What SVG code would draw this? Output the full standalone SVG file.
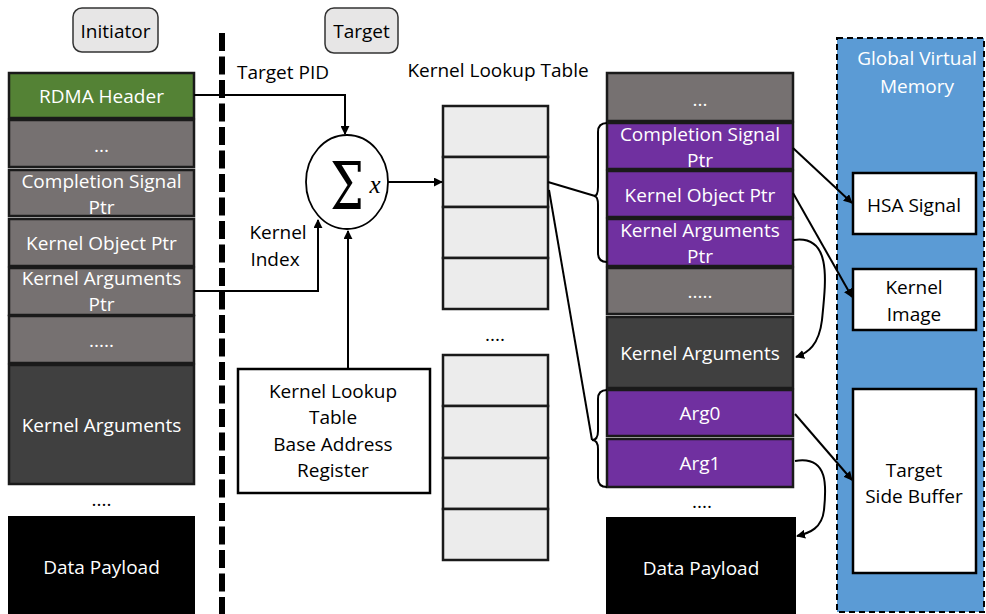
<svg xmlns="http://www.w3.org/2000/svg" width="986" height="614" viewBox="0 0 986 614">
<defs>
<marker id="ah" viewBox="0 0 10 10" refX="9" refY="5" markerWidth="9" markerHeight="9" markerUnits="userSpaceOnUse" orient="auto">
<path d="M0,0 L10,5 L0,10 z" fill="#000"/>
</marker>
<style>
text{font-family:"Open Sans","Noto Sans",sans-serif;font-size:19px;text-anchor:middle}
.w{fill:#fff}
.k{fill:#000}
.gray{fill:#767171;stroke:#1a1a1a;stroke-width:2.5}
.dark{fill:#404040;stroke:#1a1a1a;stroke-width:2.5}
.green{fill:#548235;stroke:#1a1a1a;stroke-width:2.5}
.purple{fill:#7030a0;stroke:#1a1a1a;stroke-width:2.5}
.black{fill:#000;stroke:#000;stroke-width:2}
.tbl{fill:#ececec;stroke:#1a1a1a;stroke-width:2.5}
.wbox{fill:#fff;stroke:#000;stroke-width:2.5}
.lbl{fill:#e7e6e6;stroke:#333;stroke-width:1.5}
.con{fill:none;stroke:#000;stroke-width:2}
.arr{fill:none;stroke:#000;stroke-width:2;marker-end:url(#ah)}
</style>
</defs>

<g id="global-memory">
<rect x="837" y="38" width="147" height="574" fill="#5b9bd5" stroke="#000" stroke-width="2" stroke-dasharray="6 4"/>
<text x="917" y="65" class="w">Global Virtual</text>
<text x="917" y="93" class="w">Memory</text>
</g>

<g id="divider">
<line x1="222" y1="33" x2="222" y2="614" stroke="#000" stroke-width="6" stroke-dasharray="18 5.5"/>
</g>

<g id="initiator-label">
<rect x="73" y="8" width="85" height="44" rx="9" class="lbl"/>
<text x="115.5" y="38" class="k">Initiator</text>
</g>
<g id="target-label">
<rect x="325" y="8" width="73" height="45" rx="9" class="lbl"/>
<text x="361.5" y="38" class="k">Target</text>
</g>

<g id="initiator-stack">
<rect x="9" y="73" width="185" height="45" class="green"/>
<text x="101.5" y="103" class="w">RDMA Header</text>
<rect x="9" y="120" width="185" height="47" class="gray"/>
<text x="101.5" y="152" class="w">...</text>
<rect x="9" y="170" width="185" height="46" class="gray"/>
<text x="101.5" y="188" class="w">Completion Signal</text>
<text x="101.5" y="214" class="w">Ptr</text>
<rect x="9" y="219" width="185" height="47" class="gray"/>
<text x="101.5" y="250" class="w">Kernel Object Ptr</text>
<rect x="9" y="268" width="185" height="47" class="gray"/>
<text x="101.5" y="285" class="w">Kernel Arguments</text>
<text x="101.5" y="311" class="w">Ptr</text>
<rect x="9" y="316" width="185" height="47" class="gray"/>
<text x="101.5" y="347" class="w">.....</text>
<rect x="9" y="365" width="185" height="119" class="dark"/>
<text x="101.5" y="432" class="w">Kernel Arguments</text>
<text x="101.5" y="506" class="k">....</text>
<rect x="9" y="517" width="185" height="100" class="black"/>
<text x="101.5" y="574" class="w">Data Payload</text>
</g>

<g id="labels">
<text x="283" y="79" class="k">Target PID</text>
<text x="278" y="239" class="k">Kernel</text>
<text x="275" y="266" class="k">Index</text>
<text x="498" y="77" class="k">Kernel Lookup Table</text>
</g>

<g id="sum">
<ellipse cx="347" cy="182" rx="41" ry="47" fill="#fff" stroke="#000" stroke-width="1.8"/>
<text x="347" y="209" transform="translate(347 0) scale(0.72 1) translate(-347 0)" style="font-family:'DejaVu Serif',serif;font-size:66px;font-weight:normal" class="k">Σ</text>
<text x="375" y="193" style="font-family:'Liberation Serif',serif;font-size:25px;font-style:italic" class="k">x</text>
</g>

<g id="base-register">
<rect x="238" y="369" width="192" height="124" class="wbox"/>
<text x="333" y="398" class="k">Kernel Lookup</text>
<text x="333" y="424" class="k">Table</text>
<text x="333" y="451" class="k">Base Address</text>
<text x="333" y="477" class="k">Register</text>
</g>

<g id="lookup-table">
<rect x="443" y="106" width="105" height="51" class="tbl"/>
<rect x="443" y="157" width="105" height="50" class="tbl"/>
<rect x="443" y="207" width="105" height="51" class="tbl"/>
<rect x="443" y="258" width="105" height="51" class="tbl"/>
<text x="495" y="341" class="k">....</text>
<rect x="443" y="355" width="105" height="51" class="tbl"/>
<rect x="443" y="406" width="105" height="52" class="tbl"/>
<rect x="443" y="458" width="105" height="51" class="tbl"/>
<rect x="443" y="509" width="105" height="51" class="tbl"/>
</g>

<g id="target-stack">
<rect x="607" y="73" width="186" height="48" class="gray"/>
<text x="700" y="106" class="w">...</text>
<rect x="607" y="123" width="186" height="46" class="purple"/>
<text x="700" y="141" class="w">Completion Signal</text>
<text x="700" y="167" class="w">Ptr</text>
<rect x="607" y="171" width="186" height="46" class="purple"/>
<text x="700" y="202" class="w">Kernel Object Ptr</text>
<rect x="607" y="219" width="186" height="47" class="purple"/>
<text x="700" y="237" class="w">Kernel Arguments</text>
<text x="700" y="263" class="w">Ptr</text>
<rect x="607" y="268" width="186" height="46" class="gray"/>
<text x="700" y="298" class="w">.....</text>
<rect x="607" y="317" width="186" height="71" class="dark"/>
<text x="700" y="360" class="w">Kernel Arguments</text>
<rect x="607" y="390" width="186" height="46" class="purple"/>
<text x="700" y="420" class="w">Arg0</text>
<rect x="607" y="439" width="186" height="48" class="purple"/>
<text x="700" y="470" class="w">Arg1</text>
<text x="702" y="508" class="k">....</text>
<rect x="607" y="518" width="188" height="100" class="black"/>
<text x="701" y="575" class="w">Data Payload</text>
</g>

<g id="hsa-signal">
<rect x="853" y="173" width="123" height="61" class="wbox"/>
<text x="914" y="212" class="k">HSA Signal</text>
</g>
<g id="kernel-image">
<rect x="853" y="269" width="123" height="61" class="wbox"/>
<text x="914" y="294" class="k">Kernel</text>
<text x="914" y="321" class="k">Image</text>
</g>
<g id="target-side-buffer">
<rect x="853" y="389" width="123" height="184" class="wbox"/>
<text x="914" y="477" class="k">Target</text>
<text x="914" y="503" class="k">Side Buffer</text>
</g>

<g id="connectors">
<path class="arr" d="M194,95 H345 V134"/>
<path class="arr" d="M194,291 H318 V220"/>
<path class="arr" d="M348,369 V231"/>
<path class="arr" d="M388,182 H442"/>
<path class="con" d="M548,182 L595,196"/>
<path class="con" d="M549,190 L592,440"/>
<path class="con" d="M607,123 Q598,123 598,132 V187 Q598,196 594,196 Q598,196 598,205 V253 Q598,262 607,262"/>
<path class="con" d="M607,390 Q598,390 598,399 V431 Q598,440 592,440 Q598,440 598,449 V478 Q598,487 607,487"/>
<path class="arr" d="M793,148 L852,203"/>
<path class="arr" d="M793,193 L852,297"/>
<path class="arr" d="M793,240 C832,234 826,280 822,320 C819,345 808,353 796,357"/>
<path class="arr" d="M795,414 L852,480"/>
<path class="arr" d="M795,461 C830,455 826,490 824,510 C822,528 810,533 797,536"/>
</g>
</svg>
